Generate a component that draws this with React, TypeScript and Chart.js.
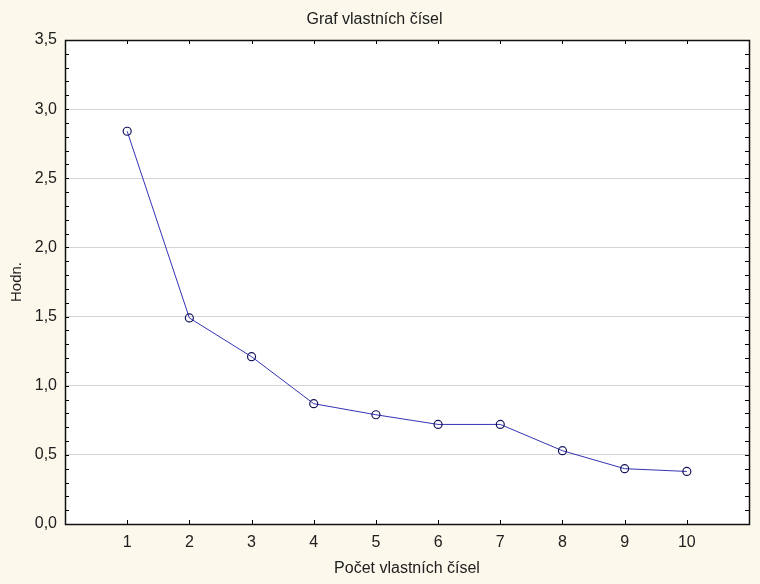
import React, { useEffect, useRef } from "react";
import { Chart, registerables } from "chart.js";

Chart.register(...registerables);

const componentNumbers = [1, 2, 3, 4, 5, 6, 7, 8, 9, 10];
const eigenValues = [2.84, 1.49, 1.21, 0.87, 0.79, 0.72, 0.72, 0.53, 0.40, 0.38];
const yTicks = [0, 0.5, 1, 1.5, 2, 2.5, 3, 3.5];
const yMinorStep = 0.1;

const chartTitle = "Graf vlastních čísel";
const xTitle = "Počet vlastních čísel";
const yTitle = "Hodn.";

const FONT = "'Liberation Sans', Arial, sans-serif";

const framePlugin = {
  id: "frame",
  beforeDraw(chart: any) {
    const { ctx, chartArea } = chart;
    ctx.save();
    ctx.fillStyle = "#fcf8ec";
    ctx.fillRect(0, 0, chart.width, chart.height);
    ctx.fillStyle = "#ffffff";
    ctx.fillRect(chartArea.left, chartArea.top, chartArea.right - chartArea.left, chartArea.bottom - chartArea.top);
    ctx.restore();
  },
  afterDatasetsDraw(chart: any) {
    const { ctx, chartArea } = chart;
    const xs = chart.scales.x;
    const ys = chart.scales.y;
    const { left, right, top, bottom } = chartArea;
    ctx.save();
    ctx.strokeStyle = "#000000";
    ctx.lineWidth = 1;
    ctx.beginPath();
    componentNumbers.forEach((v) => {
      const px = Math.round(xs.getPixelForValue(v)) + 0.5;
      ctx.moveTo(px, bottom);
      ctx.lineTo(px, bottom - 4);
      ctx.moveTo(px, top);
      ctx.lineTo(px, top + 4);
    });
    const maxY = yTicks[yTicks.length - 1];
    const n = Math.round(maxY / yMinorStep);
    for (let i = 1; i < n; i++) {
      const py = Math.round(ys.getPixelForValue(i * yMinorStep)) + 0.5;
      ctx.moveTo(left, py);
      ctx.lineTo(left + 4, py);
      ctx.moveTo(right, py);
      ctx.lineTo(right - 4, py);
    }
    ctx.stroke();
    ctx.lineWidth = 1.5;
    ctx.strokeStyle = "#101010";
    ctx.strokeRect(Math.round(left) + 0.5, Math.round(top) + 0.5, Math.round(right - left), Math.round(bottom - top));
    ctx.restore();
  },
};

export default function App() {
  const ref = useRef<HTMLCanvasElement | null>(null);
  useEffect(() => {
    document.body.style.margin = "0";
    const canvas = ref.current;
    if (!canvas) return;
    const chart = new Chart(canvas, {
      type: "line",
      data: {
        datasets: [
          {
            data: componentNumbers.map((x, i) => ({ x, y: eigenValues[i] })),
            borderColor: "#3434b4",
            borderWidth: 1,
            pointRadius: 4,
            pointBorderWidth: 1.2,
            pointBorderColor: "#14145a",
            pointBackgroundColor: "rgba(255,255,255,0)",
            fill: false,
            tension: 0,
          },
        ],
      },
      options: {
        responsive: false,
        animation: false,
        devicePixelRatio: 1,
        layout: { padding: { left: 0, right: 11, top: 0, bottom: 0 } },
        plugins: {
          legend: { display: false },
          tooltip: { enabled: false },
          title: {
            display: true,
            text: chartTitle,
            color: "#202020",
            font: { family: FONT, size: 16, weight: "normal", lineHeight: 1.2 },
            padding: { top: 10, bottom: 10.8 },
          },
        },
        scales: {
          x: {
            type: "linear",
            min: 0,
            max: 11,
            afterFit: (s: any) => {
              s.height = 60;
            },
            afterBuildTicks: (s: any) => {
              s.ticks = componentNumbers.map((v) => ({ value: v }));
            },
            ticks: {
              color: "#202020",
              font: { family: FONT, size: 16 },
              padding: 9,
              callback: (v: any) => String(v),
              maxRotation: 0,
              autoSkip: false,
            },
            grid: { display: false, drawTicks: false },
            border: { display: false },
            title: {
              display: true,
              text: xTitle,
              color: "#202020",
              font: { family: FONT, size: 16, lineHeight: 1.2 },
              padding: { top: 0, bottom: 5.8 },
            },
          },
          y: {
            type: "linear",
            min: 0,
            max: 3.5,
            afterFit: (s: any) => {
              s.width = 65;
            },
            afterBuildTicks: (s: any) => {
              s.ticks = yTicks.map((v) => ({ value: v }));
            },
            ticks: {
              color: "#202020",
              font: { family: FONT, size: 16 },
              padding: 8,
              callback: (v: any) => Number(v).toFixed(1).replace(".", ","),
            },
            grid: { color: "#d4d4d4", drawTicks: false, lineWidth: 1 },
            border: { display: false },
            title: {
              display: true,
              text: yTitle,
              color: "#202020",
              font: { family: FONT, size: 15, lineHeight: 1.2 },
              padding: { top: 8, bottom: 0 },
            },
          },
        },
      } as any,
      plugins: [framePlugin],
    });
    return () => chart.destroy();
  }, []);
  return (
    <div style={{ width: 760, height: 584 }}>
      <canvas ref={ref} width={760} height={584} style={{ display: "block" }} />
    </div>
  );
}
